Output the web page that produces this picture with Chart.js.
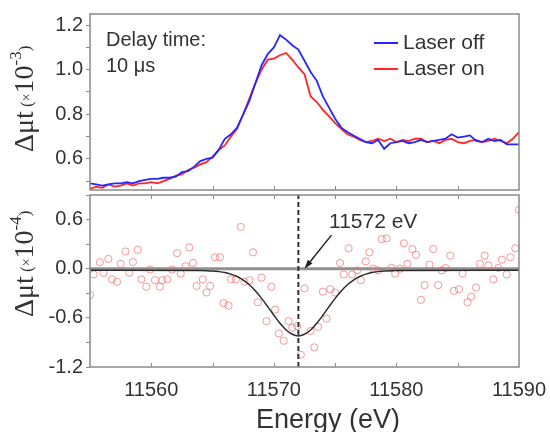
<!DOCTYPE html>
<html><head><meta charset="utf-8">
<script src="https://cdn.jsdelivr.net/npm/chart.js@4/dist/chart.umd.min.js"></script>
<style>
html,body{margin:0;padding:0;background:#fff;}
#wrap{position:relative;width:550px;height:432px;overflow:hidden;}
canvas{position:absolute;left:0;}
</style>
</head><body>
<div id="wrap">
<canvas id="cTop" width="550" height="200" style="top:0px"></canvas>
<canvas id="cBot" width="550" height="242" style="top:190px"></canvas>
</div>
<script>
// ---------- data ----------
const energyTop = [11555,11555.5,11556,11556.5,11557,11557.5,11558,11558.5,11559,11559.5,
  11560,11560.5,11561,11561.5,11562,11562.5,11563,11563.5,11564,11564.5,
  11565,11565.5,11566,11566.5,11567,11567.5,11568,11568.5,11569,11569.5,
  11570,11570.5,11571,11571.5,11572,11572.5,11573,11573.5,11574,11574.5,
  11575,11575.5,11576,11576.5,11577,11577.5,11578,11578.5,11579,11579.5,
  11580,11580.5,11581,11581.5,11582,11582.5,11583,11583.5,11584,11584.5,
  11585,11585.5,11586,11586.5,11587,11587.5,11588,11588.5,11589,11589.5,11590];
const laserOff = [0.49,0.485,0.48,0.485,0.49,0.49,0.495,0.49,0.5,0.505,
  0.51,0.51,0.515,0.515,0.52,0.54,0.545,0.565,0.59,0.6,
  0.605,0.64,0.69,0.71,0.74,0.8,0.86,0.94,1.02,1.07,
  1.1,1.155,1.135,1.11,1.09,1.04,0.99,0.95,0.88,0.83,
  0.78,0.74,0.72,0.705,0.69,0.675,0.67,0.685,0.645,0.67,
  0.675,0.68,0.67,0.675,0.685,0.675,0.68,0.685,0.69,0.71,
  0.695,0.7,0.705,0.68,0.675,0.69,0.68,0.685,0.665,0.665,0.665];
const laserOn = [0.465,0.475,0.47,0.485,0.475,0.48,0.49,0.48,0.49,0.49,
  0.495,0.49,0.5,0.51,0.525,0.53,0.55,0.56,0.575,0.585,
  0.61,0.64,0.66,0.7,0.735,0.8,0.87,0.94,1.0,1.045,
  1.05,1.065,1.075,1.045,1.01,0.98,0.88,0.855,0.82,0.79,
  0.76,0.735,0.71,0.7,0.685,0.675,0.68,0.69,0.68,0.69,
  0.675,0.685,0.68,0.69,0.69,0.675,0.68,0.67,0.685,0.69,
  0.675,0.67,0.68,0.685,0.675,0.68,0.69,0.68,0.67,0.69,0.72];

const diffEnergy = [11555.0,11555.3,11555.8,11556.1,11556.5,11556.8,11557.2,11557.5,11557.9,11558.2,
  11558.5,11558.9,11559.2,11559.6,11559.9,11560.3,11560.7,11560.9,11561.3,11561.7,
  11562.1,11562.4,11562.8,11563.1,11563.4,11563.7,11564.2,11564.5,11564.8,11565.2,
  11565.6,11565.9,11566.3,11566.5,11566.9,11567.3,11567.6,11568.0,11568.3,11568.7,
  11569.0,11569.4,11569.8,11570.1,11570.4,11570.8,11571.2,11571.5,11571.9,11572.2,
  11572.5,11573.0,11573.3,11573.6,11574.0,11574.3,11574.6,11575.0,11575.4,11575.7,
  11576.1,11576.4,11576.8,11577.1,11577.5,11577.8,11578.1,11578.5,11578.8,11579.2,
  11579.6,11579.9,11580.3,11580.6,11580.9,11581.3,11581.6,11582.0,11582.3,11582.7,
  11583.0,11583.4,11583.7,11584.0,11584.4,11584.7,11585.1,11585.4,11585.8,11586.1,
  11586.5,11586.8,11587.2,11587.5,11587.9,11588.3,11588.6,11589.0,11589.3,11589.7,11590.0];
const diffValue = [-0.32,-0.07,0.08,-0.05,0.12,-0.13,-0.16,0.06,0.21,-0.05,
  0.08,0.23,-0.13,-0.22,-0.01,-0.14,-0.22,-0.14,-0.13,-0.01,
  0.19,-0.06,0.03,0.26,0.07,-0.21,-0.13,-0.29,-0.21,0.14,
  0.14,-0.42,-0.45,-0.13,-0.13,0.51,-0.16,-0.14,0.20,-0.41,
  -0.11,-0.64,-0.22,-0.50,-0.79,-0.88,-0.64,-0.72,-0.70,-1.05,
  -0.24,-0.76,-0.96,-0.71,-0.28,-0.61,-0.25,-0.29,0.07,-0.07,
  0.25,-0.07,-0.02,-0.14,0.09,0.20,0.00,-0.02,0.36,0.37,
  0.01,-0.06,0.00,0.31,0.06,0.24,0.17,-0.38,-0.20,0.05,
  0.24,-0.20,-0.02,0.01,0.16,-0.27,-0.25,-0.06,-0.41,-0.34,
  -0.23,0.06,0.16,0.04,-0.13,0.01,0.11,-0.07,0.14,0.25,0.72];

const fitEnergy = [11555,11564,11564.5,11565,11565.5,11566,11566.5,11567,11567.5,11568,11568.5,
  11569,11569.5,11570,11570.5,11571,11571.5,11572,11572.5,11573,11573.5,11574,11574.5,
  11575,11575.5,11576,11576.5,11577,11577.5,11578,11578.5,11579,11579.5,11580,11590];
const fitValue = [-0.02,-0.022,-0.024,-0.028,-0.035,-0.046,-0.066,-0.095,-0.138,-0.196,-0.271,
  -0.362,-0.463,-0.568,-0.667,-0.748,-0.80,-0.82,-0.80,-0.748,-0.667,-0.568,-0.463,
  -0.362,-0.271,-0.196,-0.138,-0.095,-0.066,-0.046,-0.035,-0.028,-0.024,-0.022,-0.02];

const edgeEnergy = 11572;           // dashed marker
const zeroLevel = 0;
const xMinorTicks = [11560,11565,11570,11575,11580,11585];
const seriesNames = ['Laser off','Laser on'];

// ---------- styling ----------
const SANS = "'Liberation Sans', Arial, Helvetica, sans-serif";
const SERIF = "'Liberation Serif', 'Times New Roman', serif";
const TXT = '#333333';
const AXIS = '#8a8a8a';
const BLUE = '#2626ff';
const RED = '#ff2626';
const X_MIN = 11555, X_MAX = 11590;
Chart.defaults.font.family = SANS;

const toXY = (xs, ys) => xs.map((x, i) => ({x: x, y: ys[i]}));

const framePlugin = {
  id: 'frame',
  afterDatasetsDraw(chart, args, opts) {
    const ctx = chart.ctx, a = chart.chartArea, xs = chart.scales.x;
    ctx.save();
    ctx.strokeStyle = AXIS;
    ctx.lineWidth = 1.5;
    ctx.strokeRect(a.left, a.top, a.right - a.left, a.bottom - a.top);
    ctx.lineWidth = 1;
    xMinorTicks.forEach(v => {
      const px = Math.round(xs.getPixelForValue(v)) + 0.5;
      if (opts.bottom) { ctx.beginPath(); ctx.moveTo(px, a.bottom); ctx.lineTo(px, a.bottom - 4); ctx.stroke(); }
      if (opts.top) { ctx.beginPath(); ctx.moveTo(px, a.top); ctx.lineTo(px, a.top + 4); ctx.stroke(); }
    });
    ctx.restore();
  }
};

function drawYTitle(ctx, x, yBottom, exp) {
  ctx.save();
  ctx.translate(x, yBottom);
  ctx.rotate(-Math.PI / 2);
  ctx.fillStyle = TXT;
  ctx.textAlign = 'left';
  ctx.textBaseline = 'alphabetic';
  const parts = [['\u0394\u03bct', 28, 0], [' (', 17, -1], ['\u00d7', 14, -2], ['10', 28, 0], ['-' + exp, 17, -12], [')', 17, -3]];
  let cx = 0;
  parts.forEach(([t, s, dy]) => {
    ctx.font = s + 'px ' + SERIF;
    ctx.fillText(t, cx, dy);
    cx += ctx.measureText(t).width;
  });
  ctx.restore();
}

const topText = {
  id: 'topText',
  afterDraw(chart) {
    const ctx = chart.ctx;
    ctx.save();
    ctx.fillStyle = TXT;
    ctx.font = '20px ' + SANS;
    ctx.textAlign = 'left';
    ctx.textBaseline = 'alphabetic';
    ctx.fillText('Delay time:', 106, 46);
    ctx.fillText('10 \u03bcs', 106, 72);
    const items = [[BLUE, seriesNames[0], 43], [RED, seriesNames[1], 69]];
    items.forEach(([c, t, y]) => {
      ctx.strokeStyle = c; ctx.lineWidth = 2;
      ctx.beginPath(); ctx.moveTo(374, y); ctx.lineTo(398, y); ctx.stroke();
      ctx.fillStyle = TXT;
      ctx.font = '21px ' + SANS;
      ctx.fillText(t, 403, y + 6);
    });
    drawYTitle(ctx, 33, 152, '3');
    ctx.restore();
  }
};

const botText = {
  id: 'botText',
  afterDraw(chart) {
    const ctx = chart.ctx, xs = chart.scales.x, ys = chart.scales.y;
    ctx.save();
    ctx.fillStyle = TXT;
    ctx.font = '21px ' + SANS;
    ctx.textAlign = 'left';
    ctx.textBaseline = 'alphabetic';
    const tx = xs.getPixelForValue(11574.5), ty = ys.getPixelForValue(0.5);
    ctx.fillText(edgeEnergy + ' eV', tx, ty);
    const x0 = xs.getPixelForValue(11574.7), y0 = ys.getPixelForValue(0.41);
    const x1 = xs.getPixelForValue(11572.5), y1 = ys.getPixelForValue(0.0);
    const ang = Math.atan2(y1 - y0, x1 - x0);
    ctx.strokeStyle = '#222'; ctx.lineWidth = 1.5;
    ctx.beginPath(); ctx.moveTo(x0, y0);
    ctx.lineTo(x1 - 7 * Math.cos(ang), y1 - 7 * Math.sin(ang)); ctx.stroke();
    ctx.fillStyle = '#222';
    ctx.beginPath();
    ctx.moveTo(x1, y1);
    ctx.lineTo(x1 - 9 * Math.cos(ang) + 3 * Math.sin(ang), y1 - 9 * Math.sin(ang) - 3 * Math.cos(ang));
    ctx.lineTo(x1 - 9 * Math.cos(ang) - 3 * Math.sin(ang), y1 - 9 * Math.sin(ang) + 3 * Math.cos(ang));
    ctx.closePath(); ctx.fill();
    ctx.fillStyle = TXT;
    ctx.font = '27px ' + SANS;
    ctx.textAlign = 'center';
    ctx.fillText('Energy (eV)', 328, 238);
    drawYTitle(ctx, 33, 127, '4');
    ctx.restore();
  }
};

function yAxisBase() {
  return {
    afterFit(s) { s.width = 90; s.paddingTop = 0; s.paddingBottom = 0; },
    border: {display: false},
    grid: {drawOnChartArea: false, drawTicks: true, tickLength: 4, color: AXIS, lineWidth: 1},
  };
}

new Chart(document.getElementById('cTop'), {
  type: 'line',
  data: {datasets: [
    {label: seriesNames[0], data: toXY(energyTop, laserOff), borderColor: BLUE, borderWidth: 1.8, pointRadius: 0, tension: 0},
    {label: seriesNames[1], data: toXY(energyTop, laserOn), borderColor: RED, borderWidth: 1.8, pointRadius: 0, tension: 0}
  ]},
  options: {
    responsive: false, animation: false, devicePixelRatio: 1,
    layout: {padding: {left: 0, right: 31, top: 14, bottom: 10}},
    plugins: {legend: {display: false}, tooltip: {enabled: false}, frame: {bottom: true, top: false}},
    scales: {
      x: {type: 'linear', min: X_MIN, max: X_MAX, display: false},
      y: Object.assign(yAxisBase(), {
        min: 0.46, max: 1.25,
        ticks: {stepSize: 0.1, includeBounds: false, autoSkip: false, padding: 3, color: TXT, font: {size: 20, family: SANS},
          callback: v => (Math.round(v * 10) % 2 === 0 ? v.toFixed(1) : '')}
      })
    }
  },
  plugins: [framePlugin, topText]
});

new Chart(document.getElementById('cBot'), {
  type: 'line',
  data: {datasets: [
    {label: 'zero', data: toXY([X_MIN, X_MAX], [zeroLevel, zeroLevel]), borderColor: 'rgba(125,125,125,0.85)', borderWidth: 3, pointRadius: 0, order: 4},
    {label: 'diff', data: toXY(diffEnergy, diffValue), showLine: false, pointRadius: 3.6, pointBorderWidth: 1,
      pointBorderColor: 'rgba(240,110,110,0.7)', pointBackgroundColor: 'rgba(255,255,255,0)', order: 3},
    {label: 'fit', data: toXY(fitEnergy, fitValue), borderColor: '#2b2b2b', borderWidth: 1.5, pointRadius: 0, cubicInterpolationMode: 'monotone', order: 2},
    {label: 'edge', data: toXY([edgeEnergy, edgeEnergy], [-1.2, 0.9]), borderColor: '#333', borderWidth: 2, borderDash: [5, 3], pointRadius: 0, order: 1}
  ]},
  options: {
    responsive: false, animation: false, devicePixelRatio: 1,
    layout: {padding: {left: 0, right: 31, top: 2, bottom: 0}},
    plugins: {legend: {display: false}, tooltip: {enabled: false}, frame: {bottom: true, top: true}},
    scales: {
      x: {type: 'linear', min: X_MIN, max: X_MAX,
        afterFit(s) { s.height = 65; s.paddingLeft = 0; s.paddingRight = 0; },
        border: {display: false}, grid: {display: false},
        ticks: {stepSize: 5, autoSkip: false, maxRotation: 0, padding: 3, color: TXT, font: {size: 20, family: SANS},
          callback: v => (Math.round(v) % 10 === 0 ? String(Math.round(v)) : '')}
      },
      y: Object.assign(yAxisBase(), {
        min: -1.2, max: 0.9,
        ticks: {stepSize: 0.3, includeBounds: false, autoSkip: false, padding: 3, color: TXT, font: {size: 20, family: SANS},
          callback: v => { const k = Math.round(v / 0.3); return k % 2 === 0 ? (Math.abs(v) < 1e-9 ? '0.0' : v.toFixed(1)) : ''; }}
      })
    }
  },
  plugins: [framePlugin, botText]
});
</script>
</body></html>
